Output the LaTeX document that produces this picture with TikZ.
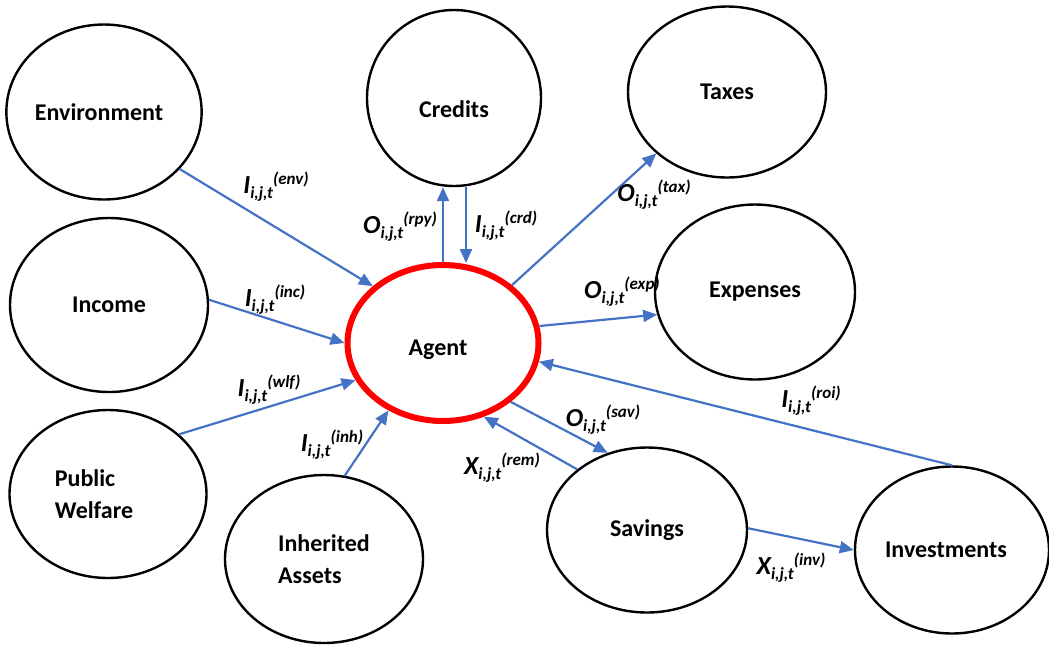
\documentclass[tikz,border=0pt]{standalone}
\usepackage{fontspec}
\setmainfont{Carlito}
\usetikzlibrary{shapes.geometric, positioning, arrows.meta, calc}
\definecolor{flowblue}{HTML}{4472C4}
% flow symbol: letter, indices, kind
\newcommand{\flowsym}[3]{\textbf{\textit{\fontsize{13}{13}\selectfont #1\raisebox{-2.5pt}{\fontsize{8.5}{9}\selectfont #2}\raisebox{4.5pt}{\fontsize{8.5}{9}\selectfont(#3)}}}}
\tikzset{
	>={Triangle[length=7pt,width=6pt]}, % filled arrow heads
	entity/.style 2 args={ellipse, draw=black, line width=1.2pt, inner sep=0pt,
		minimum width=#1pt, minimum height=#2pt,
		font=\bfseries\fontsize{12}{16}\selectfont, align=center}, % the outer boxes
	agentnode/.style 2 args={entity={#1}{#2}, draw=red, line width=3pt}, % the agent
	flow/.style={->, draw=flowblue, line width=1.1pt}, % money flows
	flowlabel/.style={inner sep=0pt}, % flow symbols
}
\begin{document}
\begin{tikzpicture}[x=0.5pt, y=-0.5pt]
		\useasboundingbox (0,0) rectangle (1049,644);
		\node[agentnode={95.5}{78}, text height=15pt] (agent) at (443,343) {Agent\hspace*{5pt}};
		\node[entity={96}{87.5}] (env) at (104,112) {Environment\hspace*{5pt}};
		\node[entity={87}{88}, text height=20pt] (crd) at (454,98) {Credits};
		\node[entity={99}{85.5}] (tax) at (727,92) {Taxes};
		\node[entity={99}{87}] (inc) at (109,305) {Income};
		\node[entity={100}{87.5}] (exp) at (755,292) {Expenses};
		\node[entity={98.5}{84}, align=left] (wlf) at (108,494) {Public\\Welfare\hspace*{14pt}};
		\node[entity={99}{84}, align=left] (inh) at (324,559) {Inherited\\Assets\hspace*{14pt}};
		\node[entity={100}{82.5}] (sav) at (647,530) {Savings};
		\node[entity={97}{83.5}] (inv) at (952,550) {Investments\hspace*{6pt}};
		
		\draw[flow] (env.-37) -- (agent.141);
		\draw[flow] (inc.3) -- (agent.180);
		\draw[flow] (wlf.40) -- (agent.203);
		\draw[flow] (inh.76) -- (agent.231);
		\draw[flow] (agent.north) -- ($(crd.south)+(-11,0)$);
		\draw[flow] ($(crd.south)+(12,0)$) -- ($(agent.north)+(23,1)$);
		\draw[flow] (agent.40) -- (tax.221);
		\draw[flow] (agent.10) -- (exp.193);
		\draw[flow] (agent.-41) -- (sav.117);
		\draw[flow] (sav.139) -- (agent.-61);
		\draw[flow] (inv.90) -- (agent.-11);
		\draw[flow] (sav.1) -- (inv.180);
		
		\node[flowlabel] (l-env) at (276,187) {\flowsym{I}{i,j,t}{env}};
		\node[flowlabel] (l-inc) at (275,300) {\flowsym{I}{i,j,t}{inc}};
		\node[flowlabel] (l-wlf) at (269,390) {\flowsym{I}{i,j,t}{wlf}};
		\node[flowlabel] (l-inh) at (332,445) {\flowsym{I}{i,j,t}{inh}};
		\node[flowlabel] (l-rpy) at (400,227) {\flowsym{O}{i,j,t}{rpy}};
		\node[flowlabel] (l-crd) at (506,226) {\flowsym{I}{i,j,t}{crd}};
		\node[flowlabel] (l-tax) at (654,195) {\flowsym{O}{i,j,t}{tax}};
		\node[flowlabel] (l-exp) at (622,292) {\flowsym{O}{i,j,t}{exp}};
		\node[flowlabel] (l-sav) at (603,420) {\flowsym{O}{i,j,t}{sav}};
		\node[flowlabel] (l-rem) at (502,468) {\flowsym{X}{i,j,t}{rem}};
		\node[flowlabel] (l-roi) at (811,401) {\flowsym{I}{i,j,t}{roi}};
		\node[flowlabel] (l-inv) at (791,568) {\flowsym{X}{i,j,t}{inv}};
	\end{tikzpicture}
\end{document}
